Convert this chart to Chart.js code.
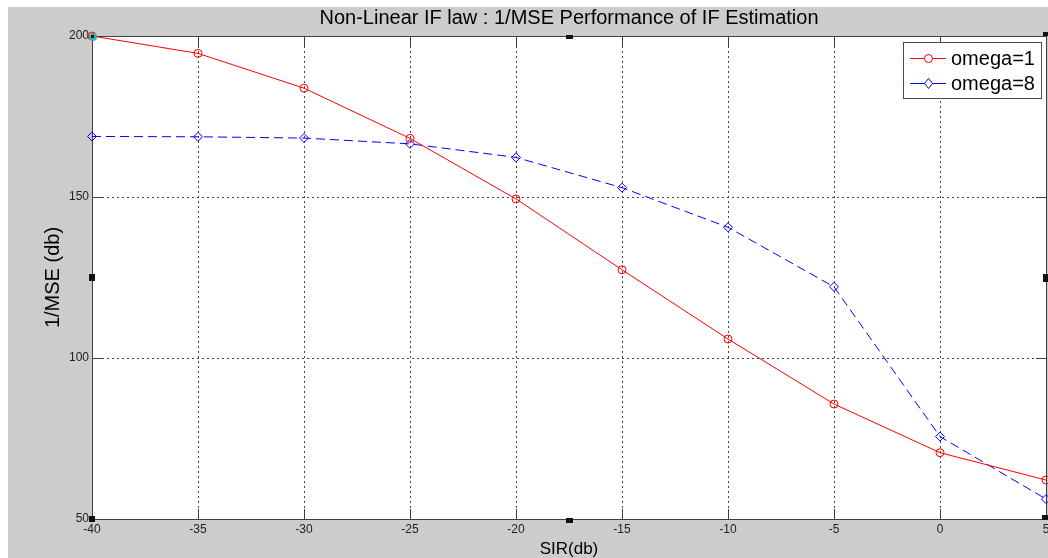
<!DOCTYPE html>
<html>
<head>
<meta charset="utf-8">
<script src="https://cdn.jsdelivr.net/npm/chart.js@4/dist/chart.umd.min.js"></script>
<style>
  html, body { margin: 0; padding: 0; background: #fff; }
  canvas { display: block; }
</style>
</head>
<body>
<canvas id="ifChart" width="1048" height="558"></canvas>
<script>
// SIR sweep and 1/MSE results for the two omega settings
const sirDb = [-40, -35, -30, -25, -20, -15, -10, -5, 0, 5];
const omega1 = [200, 194.6, 183.8, 168.2, 149.4, 127.4, 105.9, 85.7, 70.6, 62.1];
const omega8 = [168.8, 168.7, 168.3, 166.5, 162.3, 152.9, 140.6, 122.1, 75.6, 56.2];
const seriesLabels = ['omega=1', 'omega=8'];
const xRange = [-40, 5, 5];    // min, max, step
const yRange = [50, 200, 50];

const FONT = '"Liberation Sans", Arial, Helvetica, sans-serif';
const AXIS_COLOR = '#404040';

function toPoints(ys) {
  return sirDb.map((x, i) => ({ x: x, y: ys[i] }));
}

// grey figure panel with a white axes box
const figureBackground = {
  id: 'figureBackground',
  beforeDraw(chart) {
    const { ctx, width, height, chartArea: a } = chart;
    ctx.save();
    ctx.fillStyle = '#ffffff';
    ctx.fillRect(0, 0, width, height);
    ctx.fillStyle = '#cccccc';
    ctx.fillRect(8, 7, width - 8, height - 7);
    ctx.fillStyle = '#ffffff';
    ctx.fillRect(a.left, a.top, a.right - a.left, a.bottom - a.top);
    ctx.restore();
  }
};

// box around the axes plus inward tick marks on all four sides
const axesFrame = {
  id: 'axesFrame',
  beforeDatasetsDraw(chart) {
    const { ctx, chartArea: a, scales } = chart;
    const len = 10;
    ctx.save();
    ctx.strokeStyle = AXIS_COLOR;
    ctx.lineWidth = 1;
    ctx.beginPath();
    scales.x.ticks.forEach(t => {
      const px = Math.round(scales.x.getPixelForValue(t.value)) + 0.5;
      ctx.moveTo(px, a.top); ctx.lineTo(px, a.top + len);
      ctx.moveTo(px, a.bottom); ctx.lineTo(px, a.bottom - len);
    });
    scales.y.ticks.forEach(t => {
      const py = Math.round(scales.y.getPixelForValue(t.value)) + 0.5;
      ctx.moveTo(a.left, py); ctx.lineTo(a.left + len, py);
      ctx.moveTo(a.right, py); ctx.lineTo(a.right - len, py);
    });
    ctx.stroke();
    ctx.strokeRect(a.left + 0.5, a.top + 0.5, a.right - a.left, a.bottom - a.top);
    ctx.restore();
  }
};

// selection handles sitting on the axes box
const axesHandles = {
  id: 'axesHandles',
  afterDraw(chart) {
    const { ctx, chartArea: a } = chart;
    const cx = Math.round((a.left + a.right) / 2);
    const cy = Math.round((a.top + a.bottom) / 2);
    ctx.save();
    ctx.fillStyle = '#111';
    ctx.fillRect(cx - 3, a.top - 1, 7, 4);
    ctx.fillRect(cx - 3, a.bottom - 1, 7, 5);
    ctx.fillRect(a.left - 3, cy - 4, 6, 7);
    ctx.fillRect(a.right - 3, cy - 4, 5, 8);
    ctx.fillRect(a.left - 3, a.bottom - 3, 6, 6);
    ctx.fillRect(a.right - 4, a.bottom - 4, 6, 5);
    ctx.fillRect(a.right - 3, a.top - 4, 5, 4);
    ctx.fillStyle = '#33b5b0';
    ctx.beginPath();
    ctx.arc(a.left + 1, a.top + 1, 4, 0, Math.PI * 2);
    ctx.fill();
    ctx.fillStyle = '#111';
    ctx.fillRect(a.left - 1, a.top - 1, 3, 3);
    ctx.restore();
  }
};

// legend box with line + marker samples
const seriesLegend = {
  id: 'seriesLegend',
  afterDraw(chart) {
    const { ctx, chartArea: a } = chart;
    const w = 138, h = 56;
    const x0 = Math.round(a.right) - 143, y0 = a.top + 6;
    ctx.save();
    ctx.fillStyle = '#ffffff';
    ctx.fillRect(x0, y0, w, h);
    ctx.strokeStyle = '#4a4a4a';
    ctx.lineWidth = 1;
    ctx.strokeRect(x0 + 0.5, y0 + 0.5, w, h);
    chart.data.datasets.forEach((ds, i) => {
      const y = y0 + 16.5 + i * 25;
      ctx.strokeStyle = ds.borderColor;
      ctx.setLineDash([]);
      ctx.beginPath();
      ctx.moveTo(x0 + 7, y);
      ctx.lineTo(x0 + 43, y);
      ctx.stroke();
      const mx = x0 + 25.5, r = 4;
      ctx.fillStyle = '#ffffff';
      ctx.beginPath();
      if (ds.pointStyle === 'circle') {
        ctx.arc(mx, y, r, 0, Math.PI * 2);
      } else {
        ctx.moveTo(mx, y - r - 1);
        ctx.lineTo(mx + r, y);
        ctx.lineTo(mx, y + r + 1);
        ctx.lineTo(mx - r, y);
        ctx.closePath();
      }
      ctx.fill();
      ctx.stroke();
      ctx.fillStyle = '#000';
      ctx.font = '20px ' + FONT;
      ctx.textBaseline = 'middle';
      ctx.fillText(ds.label, x0 + 48, y + 1);
    });
    ctx.restore();
  }
};

const ctx = document.getElementById('ifChart').getContext('2d');
const ifChart = new Chart(ctx, {
  type: 'line',
  data: {
    datasets: [
      {
        label: seriesLabels[0],
        data: toPoints(omega1),
        borderColor: '#ff0000',
        borderWidth: 1,
        pointStyle: 'circle',
        pointRadius: 4,
        pointBorderWidth: 1,
        pointBorderColor: '#ff0000',
        pointBackgroundColor: 'rgba(0,0,0,0)',
        tension: 0,
        clip: false
      },
      {
        label: seriesLabels[1],
        data: toPoints(omega8),
        borderColor: '#0000ff',
        borderWidth: 1,
        borderDash: [9, 5],
        pointStyle: 'rectRot',
        pointRadius: 4.5,
        pointBorderWidth: 1,
        pointBorderColor: '#0000ff',
        pointBackgroundColor: 'rgba(0,0,0,0)',
        tension: 0,
        clip: false
      }
    ]
  },
  options: {
    responsive: false,
    animation: false,
    devicePixelRatio: 1,
    // markers and the last x label are allowed to run off the right edge
    layout: { autoPadding: false, padding: { left: 0, right: 2, top: 0, bottom: 0 } },
    plugins: {
      legend: { display: false },
      tooltip: { enabled: false },
      title: {
        display: true,
        fullSize: false,
        text: 'Non-Linear IF law : 1/MSE Performance of IF Estimation',
        color: '#000',
        font: { family: FONT, size: 20, weight: 'normal', lineHeight: 1.2 },
        padding: { top: 6, bottom: 6 }
      }
    },
    scales: {
      x: {
        type: 'linear',
        min: xRange[0],
        max: xRange[1],
        ticks: {
          stepSize: xRange[2],
          padding: 3,
          color: '#222',
          maxRotation: 0,
          autoSkip: false,
          font: { family: FONT, size: 12 }
        },
        grid: { color: '#444', lineWidth: 1, drawTicks: false, borderDash: [2, 3] },
        border: { display: false, dash: [2, 3] },
        title: {
          display: true,
          text: 'SIR(db)',
          color: '#000',
          font: { family: FONT, size: 17, lineHeight: 1 },
          padding: { top: 0, bottom: 0.5 }
        },
        afterFit(scale) {
          scale.height = 39;
          scale.paddingLeft = 0;
          scale.paddingRight = 0;
        }
      },
      y: {
        type: 'linear',
        min: yRange[0],
        max: yRange[1],
        ticks: {
          stepSize: yRange[2],
          padding: 3,
          color: '#222',
          font: { family: FONT, size: 12 }
        },
        grid: { color: '#444', lineWidth: 1, drawTicks: false, borderDash: [2, 3] },
        border: { display: false, dash: [2, 3] },
        title: {
          display: true,
          text: '1/MSE (db)',
          color: '#000',
          font: { family: FONT, size: 20, lineHeight: 1.2 },
          padding: { top: 41, bottom: 0 }
        },
        afterFit(scale) {
          scale.width = 92;
        }
      }
    }
  },
  plugins: [figureBackground, axesFrame, axesHandles, seriesLegend]
});
</script>
</body>
</html>
